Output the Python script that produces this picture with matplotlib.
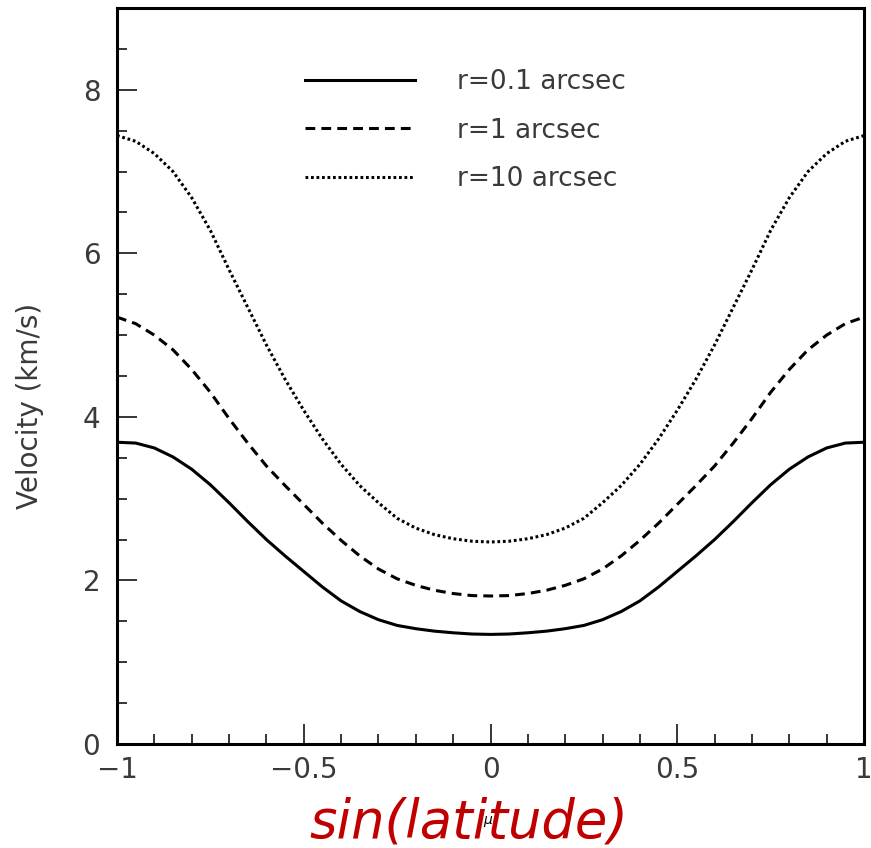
import numpy as np
import matplotlib
matplotlib.use("Agg")
import matplotlib.pyplot as plt
from matplotlib.ticker import MultipleLocator

# sin(latitude) grid, -1 .. 1 in steps of 0.05
mu = [-1.0, -0.95, -0.9, -0.85, -0.8, -0.75, -0.7, -0.65, -0.6, -0.55, -0.5,
      -0.45, -0.4, -0.35, -0.3, -0.25, -0.2, -0.15, -0.1, -0.05, 0.0,
      0.05, 0.1, 0.15, 0.2, 0.25, 0.3, 0.35, 0.4, 0.45, 0.5,
      0.55, 0.6, 0.65, 0.7, 0.75, 0.8, 0.85, 0.9, 0.95, 1.0]

# velocity (km/s) for the three radii
v_r01 = [3.69, 3.68, 3.62, 3.51, 3.36, 3.17, 2.95, 2.72, 2.50, 2.30, 2.11,
         1.92, 1.75, 1.62, 1.52, 1.45, 1.41, 1.38, 1.36, 1.345, 1.34,
         1.345, 1.36, 1.38, 1.41, 1.45, 1.52, 1.62, 1.75, 1.92, 2.11,
         2.30, 2.50, 2.72, 2.95, 3.17, 3.36, 3.51, 3.62, 3.68, 3.69]
v_r1 = [5.22, 5.14, 5.00, 4.82, 4.58, 4.30, 3.98, 3.68, 3.40, 3.16, 2.93,
        2.70, 2.49, 2.30, 2.14, 2.02, 1.94, 1.88, 1.84, 1.815, 1.81,
        1.815, 1.84, 1.88, 1.94, 2.02, 2.14, 2.30, 2.49, 2.70, 2.93,
        3.16, 3.40, 3.68, 3.98, 4.30, 4.58, 4.82, 5.00, 5.14, 5.22]
v_r10 = [7.44, 7.37, 7.22, 7.00, 6.68, 6.28, 5.80, 5.34, 4.88, 4.46, 4.08,
         3.73, 3.42, 3.16, 2.95, 2.76, 2.64, 2.56, 2.51, 2.48, 2.47,
         2.48, 2.51, 2.56, 2.64, 2.76, 2.95, 3.16, 3.42, 3.73, 4.08,
         4.46, 4.88, 5.34, 5.80, 6.28, 6.68, 7.00, 7.22, 7.37, 7.44]

labels = ["r=0.1 arcsec", "r=1 arcsec", "r=10 arcsec"]

txt = "#3a3a3a"
plt.rcParams['font.family'] = ['DejaVu Sans']

fig = plt.figure(figsize=(8.71, 8.48), dpi=100)
ax = fig.add_axes([117/871, 1 - 744/848, (864-117)/871, (744-8)/848])

ax.plot(mu, v_r01, color='black', lw=2.2, ls='-', label=labels[0])
ax.plot(mu, v_r1, color='black', lw=2.2, ls=(0, (3.2, 2.0)), label=labels[1])
ax.plot(mu, v_r10, color='black', lw=2.2, ls=(0, (0.9, 0.9)), label=labels[2])

ax.set_xlim(-1, 1)
ax.set_ylim(0, 9)
ax.xaxis.set_major_locator(MultipleLocator(0.5))
ax.xaxis.set_minor_locator(MultipleLocator(0.1))
ax.yaxis.set_major_locator(MultipleLocator(2))
ax.yaxis.set_minor_locator(MultipleLocator(0.5))
ax.set_xticks([-1, -0.5, 0, 0.5, 1])
ax.set_xticklabels(['\u22121', '\u22120.5', '0', '0.5', '1'])

for s in ax.spines.values():
    s.set_linewidth(2.2)
ax.tick_params(which='both', direction='in', top=False, right=False,
               width=1.1, labelsize=20, labelcolor=txt)
ax.tick_params(which='major', length=14.4)
ax.tick_params(which='minor', length=7.2)
ax.tick_params(axis='x', pad=9)
ax.tick_params(axis='y', pad=12)

leg = ax.legend(loc='upper left', bbox_to_anchor=(0.22, 0.949), frameon=False,
                fontsize=19, handlelength=4.15, handletextpad=1.6,
                labelspacing=0.85)
for t in leg.get_texts():
    t.set_color(txt)

fig.text(30/871, 1 - 406/848, "Velocity (km/s)", rotation=90, ha='center',
         va='center', fontsize=20, color=txt)
fig.text(488/871, 1 - 820/848, "\u03bc", fontsize=10, style='italic',
         ha='center', va='center', color='black')
fig.text(469/871, 1 - 822/848, "sin(latitude)", fontsize=38, style='italic',
         ha='center', va='center', color='#c00000')

fig.savefig("out.png", dpi=100)
